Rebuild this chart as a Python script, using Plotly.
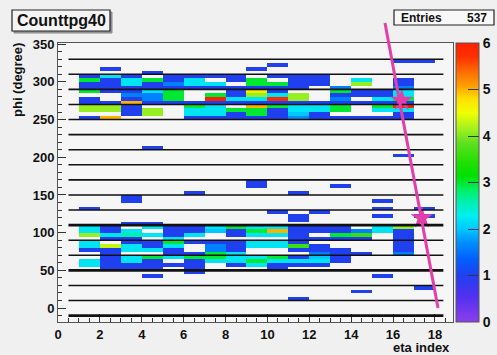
import numpy as np
import plotly.graph_objects as go

# ---------------- data ----------------
eta_low = [1, 2, 3, 4, 5, 6, 7, 8, 9, 10, 11, 12, 13, 14, 15, 16, 17]

upper_phi = [305, 300, 295, 290, 285, 280, 275, 270, 265, 260, 255, 250]
upper_band = [
    [1, 2.2, 1, 0, 1, 1, 1, 1, 0, 1, 1, 1, 0, 0, 0, 0, 0],
    [3, 1, 2.2, 3, 1, 2.2, 0, 1, 3, 0, 1, 1, 0, 2.2, 0, 1, 0],
    [1, 1, 2.2, 1, 1.6, 2.2, 2.2, 0, 3, 3, 1, 1, 0, 4.1, 0, 1, 0],
    [1, 1, 1, 1, 1, 1, 1, 1, 1, 1, 1, 0, 1.6, 0, 0, 1.6, 0],
    [3, 1, 1, 2.2, 3, 0, 0, 1, 4.7, 1, 0, 0, 3, 1, 1, 2.2, 0],
    [0, 0, 1.6, 1.6, 3, 0, 3, 1, 4.1, 2.2, 4.1, 0, 1, 1, 1, 2.2, 0],
    [1, 0, 1, 1.6, 3, 0, 6, 2.2, 2.2, 5.8, 4.1, 0, 1.6, 0, 2.2, 3, 0],
    [1, 1, 5, 1, 1, 1, 1, 1, 1, 1, 1, 1, 1, 1, 1, 1, 0],
    [4.1, 4.1, 1, 0, 0, 3, 2.2, 0, 5, 3, 2.2, 2.2, 3, 0, 3, 6, 0],
    [4.1, 4.1, 1, 4.1, 0, 2.2, 2.2, 3, 3, 1, 2.2, 2.2, 3, 0, 2.2, 2.2, 0],
    [0, 0, 1, 4.1, 0, 2.2, 2.2, 1, 3, 1, 2, 1, 0, 0, 0, 1, 0],
    [1, 5, 0, 0, 0, 1, 1, 1, 1, 1, 1.7, 1, 1, 1, 1, 1, 0],
]

lower_phi = [105, 100, 95, 90, 85, 80, 75, 70, 65, 60, 55, 50]
lower_band = [
    [2.2, 1, 0, 2.2, 1, 1, 2.2, 3, 2.2, 2.2, 1, 1, 1, 0, 2.2, 4.1, 0],
    [2.2, 1, 2.2, 0, 1, 1, 2, 1, 3, 5, 1, 1, 1, 1.6, 2.2, 1, 0],
    [4.1, 2.2, 2.6, 2.2, 1, 2.2, 0, 1, 2.2, 2.2, 1, 0, 3, 3.6, 0, 1, 0],
    [0, 1, 1, 0, 2.2, 0, 0, 0, 0, 0, 1, 1, 1, 1, 0, 1, 0],
    [2.2, 0, 1, 1, 3, 1, 1, 1, 2.2, 2.2, 1, 0, 0, 0, 0, 1, 0],
    [2.2, 4.3, 2.2, 1, 2.2, 0, 1.6, 1, 2.2, 2.2, 3.6, 1, 0, 0, 0, 1, 0],
    [1, 1, 2.2, 2.2, 1, 0, 1.6, 1, 0, 0, 1, 1, 1, 0, 0, 1, 0],
    [0, 1, 0, 0, 1, 1, 3, 2.2, 0, 0, 0, 1.6, 1, 1, 0, 1.6, 0],
    [0, 1, 2.2, 3, 2.2, 3, 3, 2.2, 2.2, 3, 1, 2, 1, 0, 0, 0, 0],
    [2.2, 1, 2.2, 1, 0, 1, 2.2, 2.2, 3, 2.2, 2.2, 2.2, 1, 0, 0, 0, 0],
    [2.2, 1, 1, 1, 1, 1, 0, 1, 2.2, 1, 1, 1, 0, 0, 0, 0, 0],
    [0, 1, 1, 1, 0, 1, 0, 0, 0, 1, 0, 0, 0, 0, 0, 0, 0],
]

sparse_eta = [1, 2, 3, 3, 3, 4, 4, 4, 4, 6, 6, 9, 9, 9, 10, 10, 11, 11, 11, 11,
              12, 13, 14, 15, 15, 15, 15, 16, 16, 17, 17, 17, 17]
sparse_phi = [130, 315, 140, 145, 110, 110, 210, 310, 40, 150, 45, 160, 165, 315, 125, 320, 150, 115, 120, 10,
              125, 160, 20, 140, 130, 120, 40, 200, 325, 325, 130, 120, 25]
sparse_val = [1] * len(sparse_eta)

line_phi = [-10, 10, 30, 50, 70, 90, 110, 130, 150, 170, 190, 210, 230, 250, 270, 290, 310, 330]
thick_lines = [-10, 50, 110]
line_eta = [0.5, 18.4]

marker_eta = [16.41, 17.37]
marker_phi = [275.4, 119.6]

x_ticks = [0, 2, 4, 6, 8, 10, 12, 14, 16, 18]
y_ticks = [0, 50, 100, 150, 200, 250, 300, 350]
cbar_ticks = [0, 1, 2, 3, 4, 5, 6]
title_text = "Counttpg40"
entries = 537

# ---------------- build grid ----------------
phi_low = np.arange(-20, 360, 5)
z = np.full((len(phi_low), len(eta_low)), np.nan)
idx = {int(p): i for i, p in enumerate(phi_low)}
for band_phi, band in ((upper_phi, upper_band), (lower_phi, lower_band)):
    for p, row in zip(band_phi, band):
        for j, v in enumerate(row):
            if v > 0:
                z[idx[p], j] = v
for e, p, v in zip(sparse_eta, sparse_phi, sparse_val):
    z[idx[p], eta_low.index(e)] = v

x_centers = [e + 0.5 for e in eta_low]
y_centers = [p + 2.5 for p in phi_low]

colorscale = [
    [0.00, "#8a40ea"], [0.095, "#5030f0"], [0.167, "#2040f0"], [0.226, "#0060ff"],
    [0.286, "#0090ff"], [0.333, "#00c8ff"], [0.381, "#00f0f0"], [0.43, "#00f0b0"],
    [0.476, "#00f060"], [0.524, "#00e000"], [0.571, "#20e000"], [0.643, "#60e020"],
    [0.69, "#a0f020"], [0.75, "#f0ff00"], [0.8, "#ffe000"], [0.845, "#ffa000"],
    [0.893, "#ff7000"], [0.95, "#ff3000"], [1.0, "#ff2000"],
]

FONT = "Liberation Sans, Arial, sans-serif"

fig = go.Figure()
fig.add_trace(go.Heatmap(
    x=x_centers, y=y_centers, z=z, zmin=0, zmax=6,
    colorscale=colorscale, hoverongaps=False,
    colorbar=dict(
        thickness=23, len=1.0, y=0.5, yanchor="middle",
        x=1.0076, xanchor="left", xpad=0, ypad=0,
        outlinewidth=1, outlinecolor="#555",
        tickvals=cbar_ticks, ticks="inside", ticklen=11, tickcolor="#335",
        tickfont=dict(family=FONT, size=14, color="#111", weight="bold"),
    ),
))

fig.add_trace(go.Scatter(
    x=marker_eta, y=marker_phi, mode="markers", cliponaxis=False,
    marker=dict(symbol="star", size=17, color="#e23fa8"),
    hoverinfo="skip", showlegend=False,
))

shapes = []
for p in line_phi:
    shapes.append(dict(type="line", xref="x", yref="y", x0=line_eta[0], x1=line_eta[1],
                       y0=p, y1=p, line=dict(color="#111", width=2.6 if p in thick_lines else 1.6)))

# plot area in pixels: x 58..453, y 43..322
def px(xp):
    return (xp - 58) / 395.0

def py(yp):
    return (322 - yp) / 279.0

# magenta line
shapes.append(dict(type="line", xref="paper", yref="paper",
                   x0=px(385), y0=py(23), x1=px(438), y1=py(308),
                   line=dict(color="#e23fa8", width=3)))
# title box (with a slight shadow)
shapes.append(dict(type="rect", xref="paper", yref="paper",
                   x0=px(14), x1=px(112), y0=py(33), y1=py(12),
                   line=dict(color="#888", width=1), fillcolor="#999"))
shapes.append(dict(type="rect", xref="paper", yref="paper",
                   x0=px(12), x1=px(110), y0=py(31), y1=py(10),
                   line=dict(color="#222", width=1.2), fillcolor="#f4f4f4"))
# stats box
shapes.append(dict(type="rect", xref="paper", yref="paper",
                   x0=px(394), x1=px(494), y0=py(25), y1=py(10),
                   line=dict(color="#222", width=1.2), fillcolor="#f8f8f8"))

annotations = [
    dict(text=title_text, xref="paper", yref="paper", x=px(61), y=py(20.5),
         xanchor="center", yanchor="middle", showarrow=False,
         font=dict(family=FONT, size=16, color="#111", weight="bold")),
    dict(text="Entries", xref="paper", yref="paper", x=px(399), y=py(17.5),
         xanchor="left", yanchor="middle", showarrow=False,
         font=dict(family=FONT, size=12, color="#111", weight="bold")),
    dict(text=str(entries), xref="paper", yref="paper", x=px(489), y=py(17.5),
         xanchor="right", yanchor="middle", showarrow=False,
         font=dict(family=FONT, size=12, color="#111", weight="bold")),
    dict(text="phi (degree)", xref="paper", yref="paper", x=px(17), y=py(80),
         xanchor="center", yanchor="middle", textangle=-90, showarrow=False,
         font=dict(family=FONT, size=13, color="#111", weight="bold")),
    dict(text="eta index", xref="paper", yref="paper", x=px(452), y=py(347),
         xanchor="right", yanchor="middle", showarrow=False,
         font=dict(family=FONT, size=13, color="#111", weight="bold")),
]

fig.update_layout(
    width=497, height=355,
    margin=dict(l=58, r=44, t=43, b=33, autoexpand=False),
    paper_bgcolor="#f0f0f0", plot_bgcolor="#f6f6f6",
    shapes=shapes, annotations=annotations, showlegend=False,
)
fig.update_xaxes(
    range=[0, 18.86], tickvals=x_ticks, ticks="inside", ticklen=8, tickcolor="#333",
    showgrid=False, zeroline=False, showline=True, linecolor="#555", linewidth=1, mirror=True,
    tickfont=dict(family=FONT, size=13, color="#111", weight="bold"),
    minor=dict(dtick=0.5, ticks="inside", ticklen=4, tickcolor="#333"),
)
fig.update_yaxes(
    range=[-18.5, 351.5], tickvals=y_ticks, ticks="inside", ticklen=8, tickcolor="#333",
    showgrid=False, zeroline=False, showline=True, linecolor="#555", linewidth=1, mirror=True,
    tickfont=dict(family=FONT, size=13, color="#111", weight="bold"),
    minor=dict(dtick=10, ticks="inside", ticklen=4, tickcolor="#333"),
)

fig.write_html(
    "out.html",
    config={"displayModeBar": False},
    post_script="document.body.style.margin='0px';document.body.style.padding='0px';"
                "document.body.style.overflow='hidden';",
)
